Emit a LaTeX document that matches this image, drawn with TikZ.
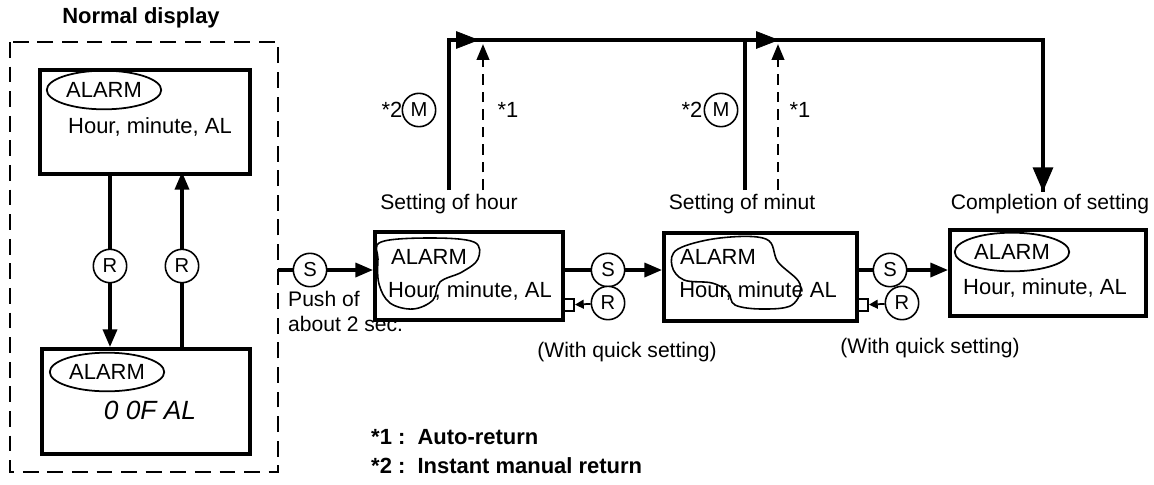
\documentclass[tikz,border=0pt]{standalone}
\usepackage{fontspec}
\setmainfont{Liberation Sans}
\usetikzlibrary{arrows.meta,positioning,calc,shapes.geometric}
\tikzset{
  disp/.style={draw, line width=2.2pt, anchor=north west, inner sep=0pt},
  btn/.style={draw, circle, inner sep=0.6pt, minimum size=19pt, line width=0.9pt, font=\fontsize{11.5}{12}\selectfont, fill=white},
  tag/.style={draw, ellipse, line width=1pt, inner sep=1.5pt, minimum width=46pt, minimum height=22pt},
  flow/.style={line width=1.8pt, -{Triangle[length=10pt,width=8pt]}},
  back/.style={line width=2.8pt},
  lbl/.style={font=\fontsize{12}{14.5}\selectfont},
}
\begin{document}
\begin{tikzpicture}[x=0.02cm,y=-0.02cm,font=\fontsize{12.5}{15}\selectfont]
\useasboundingbox (0,0) rectangle (1154,484);

% normal display
\node[font=\bfseries\fontsize{12.5}{14}\selectfont] at (141,18) {Normal display};
\draw[line width=1.2pt, dash pattern=on 9pt off 5pt] (10,42) rectangle (278,472);

\node[disp, minimum width=210*0.02cm, minimum height=104*0.02cm] (N1) at (38,68) {};
\node[tag] (N1a) at (104,90) {ALARM};
\node (N1b) at (150,127) {Hour, minute, AL};

\node[disp, minimum width=208*0.02cm, minimum height=105*0.02cm] (N2) at (40,347) {};
\node[tag] (N2a) at (107,372) {ALARM};
\node[font=\itshape\fontsize{15}{15}\selectfont] (N2b) at (150,410) {0 0F AL};

\coordinate (d1) at (110,172);
\coordinate (d2) at (110,347);
\coordinate (u1) at (182,347);
\coordinate (u2) at (182,172);
\draw[flow] (d1) -- (d2);
\draw[flow] (u1) -- (u2);
\node[btn] (R1) at (110,266) {R};
\node[btn] (R2) at (182,266) {R};

% setting boxes
\node[disp, minimum width=188*0.02cm, minimum height=88*0.02cm] (H) at (373,230) {};
\node (Ha) at (429,257) {ALARM};
\node (Hb) at (470,291) {Hour, minute, AL};
\draw[line width=0.9pt] plot[smooth cycle, tension=0.6] coordinates
  {(381,242) (430,238) (474,242) (478,259) (462,272) (440,282) (433,300) (413,309) (390,303) (379,284) (378,259)};

\node[disp, minimum width=193*0.02cm, minimum height=88*0.02cm] (M) at (662,231) {};
\node (Ma) at (718,257) {ALARM};
\node (Mb) at (758,291) {Hour, minute AL};
\draw[line width=0.9pt] plot[smooth cycle, tension=0.6] coordinates
  {(678,249) (720,238) (766,239) (778,262) (800,284) (792,305) (762,309) (735,305) (728,292) (712,283) (684,280) (672,266)};

\node[disp, minimum width=196*0.02cm, minimum height=86*0.02cm] (C) at (948,228) {};
\node[tag] (Ca) at (1012,252) {ALARM};
\node (Cb) at (1045,288) {Hour, minute, AL};

% forward path
\coordinate (n0) at (278,270);
\draw[flow] (n0) -- (H.west |- n0);
\node[btn] (S1) at (310,270) {S};
\node[lbl, anchor=north west, align=left] (push) at (282,285) {Push of\\about 2 sec.};

\coordinate (h0) at (561,270);
\draw[flow] (h0) -- (M.west |- h0);
\node[btn] (S2) at (608,270) {S};
\node[btn] (R3) at (608,303) {R};
\node[draw, line width=0.9pt, minimum size=7pt, inner sep=0pt] (q1) at (568,305) {};
\draw[line width=1pt, -{Triangle[length=5pt,width=5pt]}] (R3) -- (q1);
\node[lbl] (w1) at (627,352) {(With quick setting)};

\coordinate (m0) at (855,270);
\draw[flow] (m0) -- (C.west |- m0);
\node[btn] (S3) at (890,270) {S};
\node[btn] (R4) at (902,303) {R};
\node[draw, line width=0.9pt, minimum size=7pt, inner sep=0pt] (q2) at (862,305) {};
\draw[line width=1pt, -{Triangle[length=5pt,width=5pt]}] (R4) -- (q2);
\node[lbl] (w2) at (930,348) {(With quick setting)};

% state labels
\node[lbl] (tH) at (449,204) {Setting of hour};
\node[lbl] (tM) at (742,204) {Setting of minut};
\node[lbl] (tC) at (1050,204) {Completion of setting};

% return path
\coordinate (a0) at (449,190);
\coordinate (a1) at (449,40);
\coordinate (b0) at (745,190);
\coordinate (b1) at (745,40);
\coordinate (c1) at (1043,40);
\coordinate (c0) at (1043,192);
\draw[back, line join=miter] (a0) -- (a1) -- (c1) -- (c0);
\draw[back] (b0) -- (b1);
\draw[back, -{Triangle[length=14pt,width=11pt]}] (c1) -- (c0);
\draw[-{Triangle[length=13pt,width=10pt]}] (a1) -- ++(30,0);
\draw[-{Triangle[length=13pt,width=10pt]}] (b1) -- ++(34,0);
\foreach \x in {483,778}
  \draw[line width=1.5pt, dash pattern=on 6pt off 4pt, -{Triangle[length=9pt,width=7pt]}] (\x,190) -- (\x,44);
\foreach \x/\m/\j/\n in {392/419/508/1,692/721/800/2}{
  \node (k\n) at (\x,110) {*2};
  \node[btn] (Mb\n) at (\m,110) {M};
  \node (j\n) at (\j,110) {*1};
}

% legend
\node[font=\bfseries\fontsize{12.5}{15}\selectfont, anchor=west] (L1) at (365,437) {*1 :\ \ Auto-return};
\node[font=\bfseries\fontsize{12.5}{15}\selectfont, anchor=west] (L2) at (365,466) {*2 :\ \ Instant manual return};
\end{tikzpicture}
\end{document}
